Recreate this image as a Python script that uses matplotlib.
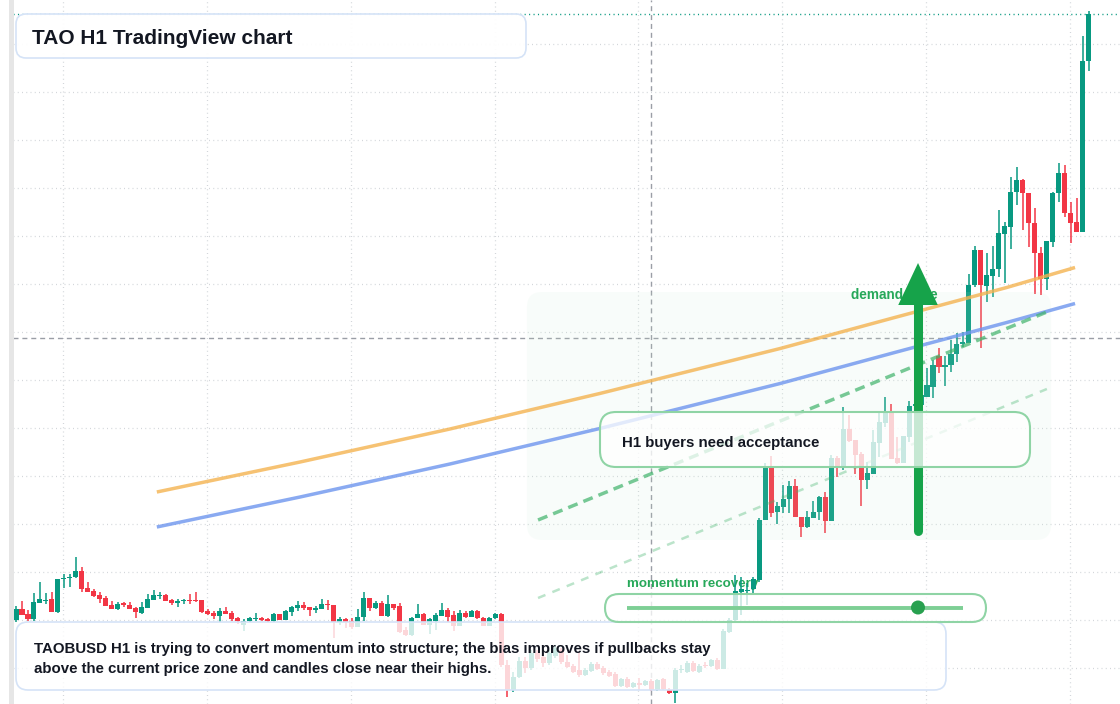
import matplotlib
matplotlib.use("Agg")
import matplotlib.pyplot as plt
from matplotlib.patches import FancyBboxPatch, Polygon, Rectangle, Circle

plt.rcParams['font.family'] = ['Liberation Sans', 'DejaVu Sans']

# TAOBUSD hourly candles, oldest first
opens = [
    316.0, 318.2, 317.2, 316.2, 319.4, 319.8, 320.2, 317.6, 324.2, 324.4,
    324.6, 325.8, 322.4, 321.8, 321.0, 320.4, 319.0, 318.2, 319.4, 319.0,
    318.4, 317.4, 318.4, 320.0, 320.8, 321.0, 320.0, 319.4, 319.8, 320.0,
    320.0, 320.0, 317.8, 317.4, 316.8, 317.8, 317.4, 316.4, 315.0, 315.8,
    316.2, 316.4, 316.2, 315.8, 317.2, 316.0, 317.6, 318.4, 319.0, 318.6,
    318.0, 318.2, 319.2, 319.0, 315.6, 316.2, 315.8, 314.6, 316.6, 320.4,
    318.4, 319.4, 316.8, 319.2, 318.8, 314.0, 313.0, 316.4, 317.2, 315.0,
    315.8, 316.8, 318.0, 317.0, 314.8, 317.4, 316.6, 317.8, 316.4, 314.8,
    316.4, 317.2, 307.0, 302.0, 304.6, 307.8, 306.4, 309.4, 308.6, 307.4,
    308.8, 310.0, 307.6, 306.8, 306.0, 305.0, 305.8, 307.2, 306.4, 305.6,
    305.2, 302.8, 304.2, 302.6, 303.4, 303.0, 303.8, 302.0, 304.2, 302.0,
    301.4, 306.0, 305.6, 307.4, 305.6, 307.0, 306.8, 308.0, 306.2, 313.6,
    316.0, 321.6, 321.8, 322.2, 324.0, 336.0, 346.4, 337.6, 338.6, 340.2,
    342.8, 336.6, 334.6, 336.4, 337.6, 340.6, 335.8, 348.4, 346.4, 354.2,
    352.0, 349.2, 344.0, 345.2, 351.4, 355.4, 357.6, 348.4, 347.4, 352.6,
    358.8, 359.0, 360.6, 362.6, 368.8, 366.6, 367.0, 369.2, 371.2, 371.4,
    383.0, 390.0, 382.8, 384.8, 386.2, 393.2, 394.6, 401.6, 404.0, 401.4,
    395.4, 389.4, 384.2, 391.6, 401.4, 405.4, 397.4, 395.6, 393.6, 427.8,
]
highs = [
    318.8, 319.8, 318.0, 321.4, 323.6, 321.4, 321.6, 324.2, 325.2, 325.2,
    328.6, 326.6, 323.6, 322.2, 321.6, 320.8, 319.8, 319.6, 319.6, 319.6,
    318.6, 319.6, 321.2, 322.0, 321.6, 321.2, 320.2, 320.2, 320.2, 321.2,
    321.6, 320.0, 318.2, 317.8, 318.4, 318.6, 317.8, 316.6, 316.2, 316.6,
    317.4, 316.6, 316.4, 317.4, 317.2, 318.0, 318.8, 319.8, 319.6, 318.6,
    318.8, 320.2, 320.0, 319.0, 316.6, 316.4, 316.4, 318.2, 321.6, 320.4,
    319.8, 319.8, 321.0, 319.2, 319.4, 314.6, 316.6, 319.2, 317.4, 316.4,
    317.4, 319.4, 318.4, 317.8, 318.0, 317.8, 318.0, 318.0, 316.6, 316.6,
    317.4, 317.4, 308.0, 305.6, 308.6, 308.6, 310.0, 310.0, 309.4, 310.0,
    311.0, 310.4, 309.0, 307.2, 309.6, 306.4, 307.6, 307.6, 306.8, 306.0,
    305.6, 304.4, 304.6, 303.6, 304.4, 304.0, 304.2, 304.2, 304.4, 302.4,
    306.4, 307.0, 307.8, 307.8, 307.2, 307.6, 308.2, 308.4, 314.2, 316.4,
    325.0, 324.6, 323.4, 324.6, 336.4, 347.4, 348.8, 339.6, 343.0, 343.8,
    344.2, 336.6, 337.8, 339.8, 340.8, 341.6, 349.0, 348.8, 358.6, 357.0,
    352.0, 349.6, 347.6, 354.0, 357.4, 360.6, 359.2, 352.6, 352.8, 359.8,
    360.4, 362.0, 366.4, 368.0, 370.4, 368.8, 372.0, 373.4, 373.6, 385.2,
    390.8, 390.0, 389.4, 390.8, 398.0, 395.6, 404.6, 406.6, 404.2, 401.4,
    398.4, 390.6, 391.8, 401.6, 407.4, 407.0, 399.6, 400.4, 432.8, 437.8,
]
lows = [
    315.6, 317.0, 315.8, 315.8, 319.4, 319.2, 317.6, 317.4, 322.4, 322.6,
    324.4, 321.6, 321.6, 320.6, 319.4, 318.8, 318.2, 318.0, 318.6, 318.2,
    316.4, 317.2, 318.4, 320.0, 320.2, 319.8, 319.0, 318.6, 319.2, 319.2,
    319.6, 317.4, 317.0, 316.2, 315.6, 317.2, 315.8, 315.2, 313.8, 315.6,
    315.8, 315.8, 315.6, 315.6, 316.0, 316.0, 316.8, 317.8, 318.0, 316.8,
    317.4, 318.2, 318.0, 312.4, 315.0, 314.4, 314.2, 314.6, 315.8, 317.8,
    318.2, 316.8, 316.6, 318.0, 313.4, 312.8, 312.8, 316.4, 315.0, 313.2,
    314.0, 316.8, 315.6, 313.8, 314.8, 316.4, 316.6, 316.2, 314.8, 314.8,
    316.2, 306.6, 300.6, 301.6, 304.4, 305.4, 306.0, 307.6, 306.6, 307.0,
    308.4, 307.2, 306.4, 305.4, 304.6, 304.8, 305.6, 306.0, 305.0, 304.6,
    302.6, 302.6, 302.4, 302.4, 302.0, 302.8, 301.8, 301.8, 302.0, 301.2,
    299.4, 305.4, 305.4, 305.6, 305.4, 306.4, 306.6, 306.0, 306.2, 313.4,
    315.6, 317.0, 319.0, 321.2, 323.6, 336.0, 336.6, 335.2, 337.4, 337.4,
    336.6, 332.6, 334.4, 336.4, 336.0, 333.4, 335.8, 344.6, 346.0, 351.6,
    345.2, 338.8, 342.2, 345.2, 348.6, 354.6, 348.2, 347.2, 347.4, 351.6,
    358.0, 358.6, 360.6, 360.4, 365.4, 362.8, 365.6, 367.6, 370.6, 371.4,
    382.6, 370.4, 379.6, 380.6, 384.6, 383.4, 390.2, 399.0, 394.0, 390.6,
    381.2, 381.0, 382.0, 390.6, 399.6, 396.6, 391.4, 393.6, 393.6, 425.8,
]
closes = [
    318.2, 317.0, 316.2, 319.6, 320.2, 320.0, 317.6, 324.2, 324.4, 324.6,
    325.8, 322.2, 321.6, 320.8, 320.2, 318.8, 318.2, 319.2, 319.0, 318.2,
    317.6, 318.6, 320.2, 321.0, 321.0, 319.8, 319.4, 319.8, 320.0, 319.8,
    319.8, 317.6, 317.2, 316.8, 317.8, 317.2, 316.2, 315.8, 315.8, 316.4,
    316.4, 316.0, 315.8, 317.2, 316.0, 317.8, 318.6, 319.0, 318.4, 318.0,
    318.4, 319.2, 319.0, 315.6, 316.2, 315.6, 314.6, 316.6, 320.4, 318.4,
    319.4, 316.8, 319.2, 318.4, 313.6, 313.0, 316.4, 317.2, 315.0, 316.2,
    317.0, 318.0, 316.6, 314.8, 317.4, 316.6, 317.8, 316.4, 314.8, 316.4,
    317.2, 307.0, 302.0, 304.6, 307.8, 306.4, 309.4, 308.2, 307.4, 309.4,
    310.4, 307.6, 306.6, 305.6, 305.0, 306.0, 307.2, 306.2, 305.4, 304.8,
    302.8, 304.2, 302.6, 303.4, 303.0, 303.8, 302.0, 304.0, 302.2, 301.4,
    306.0, 306.2, 307.4, 305.8, 306.8, 306.8, 308.0, 306.2, 313.8, 316.0,
    321.8, 322.2, 322.0, 324.2, 336.0, 346.4, 337.4, 338.8, 340.2, 342.8,
    336.6, 334.6, 336.6, 337.6, 340.6, 335.8, 348.4, 346.6, 354.2, 351.8,
    349.0, 344.0, 345.4, 351.6, 355.6, 357.6, 348.2, 347.4, 352.8, 358.8,
    359.2, 361.0, 363.0, 367.0, 366.6, 367.0, 369.2, 371.2, 371.6, 383.0,
    390.0, 383.0, 385.0, 386.2, 393.4, 394.8, 401.6, 404.0, 401.4, 395.4,
    389.4, 384.2, 391.8, 401.4, 405.4, 397.4, 395.4, 393.6, 427.8, 437.2,
]

# overlay curves (bar index, price)
curve_x = [23.5, 47.4, 72.4, 97.4, 127.5, 146.3, 165.3, 176.7]
orange_curve = [341.6, 347.6, 354.2, 361.3, 370.3, 376.4, 382.5, 386.5]
blue_curve = [334.6, 340.6, 347.2, 354.3, 363.3, 369.4, 375.5, 379.3]
trend_x = [87.1, 172.0]
trend_main = [336.0, 377.6]
trend_low = [320.4, 362.2]
zone_x = [85.25, 172.7]
zone_y = [332.0, 381.6]
arrow_x = 150.5
arrow_y = [333.8, 387.4]
cross_x = 105.9
cross_y = 372.4
last_price = closes[-1]

UP = '#089981'
DOWN = '#f23645'
INK = '#131722'
GREEN_TXT = '#27a85a'

fig = plt.figure(figsize=(11.2, 7.04), dpi=100)
fig.patch.set_facecolor('white')
ax = fig.add_axes([13 / 1120, 0, 1107 / 1120, 1])
ax.set_xlim(-0.5, 184.2)
ax.set_ylim(299.2, 440)
ax.axis('off')
px = fig.dpi_scale_trans  # inches, for the panels

# grid
for k in range(8):
    ax.axvline(7.85 + 24 * k, color='#d3d6da', lw=0.9, ls=(0, (0.8, 2.6)), zorder=1)
for k in range(14):
    ax.axhline(306.4 + 9.6 * k, color='#d3d6da', lw=0.9, ls=(0, (0.8, 2.6)), zorder=1)

# crosshair + last price line
ax.axvline(cross_x, color='#9a9ea6', lw=1.0, ls=(0, (3.6, 2.8)), zorder=1.5)
ax.axhline(cross_y, color='#9a9ea6', lw=1.0, ls=(0, (3.6, 2.8)), zorder=1.5)
ax.axhline(last_price, color=UP, lw=1.0, ls=(0, (0.8, 2.4)), zorder=1.5)

ax.text(6.27, 1.20, 'momentum recovery', transform=px, fontsize=9.6,
        fontweight='bold', color=GREEN_TXT, va='center', zorder=2)

# candles
idx = list(range(len(opens)))
cols = [UP if c >= o else DOWN for o, c in zip(opens, closes)]
bottoms = [min(o, c) for o, c in zip(opens, closes)]
heights = [max(abs(c - o), 0.25) for o, c in zip(opens, closes)]
ax.vlines(idx, lows, highs, colors=cols, linewidth=1.1, zorder=3)
ax.bar(idx, heights, bottom=bottoms, width=0.84, color=cols, linewidth=0, zorder=4)

# demand zone
ax.add_patch(FancyBboxPatch((zone_x[0], zone_y[0]), zone_x[1] - zone_x[0], zone_y[1] - zone_y[0],
                            boxstyle='round,pad=0,rounding_size=2.5', mutation_aspect=1.2,
                            facecolor='#c8ebd2', alpha=0.11, edgecolor='none', zorder=5))

ax.plot(curve_x, orange_curve, color='#f4b350', alpha=0.8, lw=2.5, zorder=6, solid_capstyle='butt')
ax.plot(curve_x, blue_curve, color='#6d95ee', alpha=0.8, lw=2.5, zorder=6, solid_capstyle='butt')
ax.plot(trend_x, trend_main, color='#3fb36a', alpha=0.7, lw=2.5, ls=(0, (2.9, 1.8)), zorder=6)
ax.plot(trend_x, trend_low, color='#3fb36a', alpha=0.35, lw=1.8, ls=(0, (3.2, 3.0)), zorder=6)

ax.text(8.51, 4.09, 'demand zone', transform=px, fontsize=9.8, fontweight='bold',
        color=GREEN_TXT, va='center', zorder=7)

# arrow
head_base = arrow_y[1] - 8.4
ax.plot([arrow_x, arrow_x], [arrow_y[0], head_base + 1], color='#16a34a', lw=6.5,
        solid_capstyle='round', zorder=8)
ax.add_patch(Polygon([(arrow_x - 3.3, head_base), (arrow_x + 3.3, head_base), (arrow_x, arrow_y[1])],
                     closed=True, facecolor='#16a34a', edgecolor='none', zorder=8))

# panels
def panel(x0, y0, w, h, r, edge, alpha, lw=1.2):
    ax.add_patch(FancyBboxPatch((x0, y0), w, h, boxstyle=f'round,pad=0,rounding_size={r}',
                                transform=px, facecolor=(1, 1, 1, alpha), edgecolor=edge,
                                lw=lw, zorder=10, clip_on=False))

panel(0.16, 6.46, 5.10, 0.44, 0.10, '#d5e3f7', 0.95)
ax.text(0.32, 6.66, 'TAO H1 TradingView chart', transform=px, fontsize=15, fontweight='bold',
        color=INK, va='center', zorder=12)

panel(0.16, 0.14, 9.30, 0.68, 0.12, '#d5e3f7', 0.8)
ax.text(0.34, 0.55, 'TAOBUSD H1 is trying to convert momentum into structure; the bias improves if pullbacks stay',
        transform=px, fontsize=10.8, fontweight='bold', color=INK, va='center', zorder=12)
ax.text(0.34, 0.35, 'above the current price zone and candles close near their highs.',
        transform=px, fontsize=10.8, fontweight='bold', color=INK, va='center', zorder=12)

panel(6.00, 2.37, 4.30, 0.55, 0.16, '#8fd4a5', 0.76, lw=1.5)
ax.text(6.22, 2.61, 'H1 buyers need acceptance', transform=px, fontsize=10.8, fontweight='bold',
        color=INK, va='center', zorder=12)

panel(6.05, 0.82, 3.81, 0.28, 0.14, '#8fd4a5', 0.76, lw=1.5)
ax.plot([6.27, 9.63], [0.965, 0.965], transform=px, color='#7dcf95', lw=2.8, zorder=11,
        solid_capstyle='butt', clip_on=False)
ax.add_patch(Circle((9.18, 0.965), 0.07, transform=px, facecolor='#28a04f', edgecolor='none',
                    zorder=12, clip_on=False))

# left edge strip
fig.add_artist(Rectangle((0.09, 0), 0.045, 7.04, transform=px, facecolor='#e6e6e6',
                         edgecolor='none', zorder=5))

fig.savefig('out.png', dpi=100, facecolor='white')
